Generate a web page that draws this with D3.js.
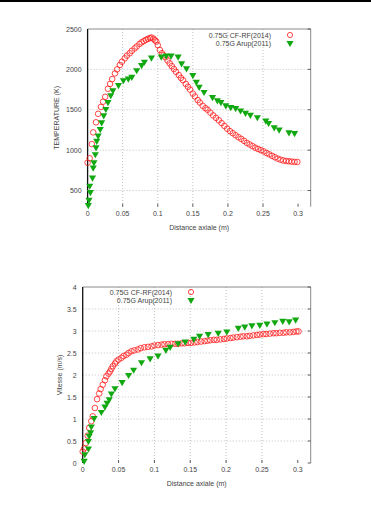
<!DOCTYPE html>
<html>
<head>
<meta charset="utf-8">
<script src="https://cdn.jsdelivr.net/npm/d3@7"></script>
<style>
  body { margin: 0; background: #fff; }
  text { font-family: "Liberation Sans", "DejaVu Sans", sans-serif; fill: #444; }
</style>
</head>
<body>
<script>
// Temperature panel, CF-RF (2014): [distance, T]
var tempCfrf = [
  [0, 845], [0.003, 900], [0.006, 1075], [0.008, 1220], [0.012, 1345], [0.015, 1450],
  [0.019, 1535], [0.022, 1600], [0.025, 1660], [0.029, 1760], [0.032, 1820], [0.035, 1880],
  [0.039, 1950], [0.042, 2000], [0.046, 2055], [0.049, 2095], [0.053, 2137], [0.056, 2170],
  [0.060, 2200], [0.063, 2230], [0.067, 2260], [0.070, 2283], [0.074, 2315], [0.077, 2335],
  [0.080, 2350], [0.083, 2365], [0.086, 2378], [0.089, 2387], [0.091, 2395], [0.094, 2380],
  [0.096, 2360], [0.098, 2345], [0.100, 2300], [0.103, 2240], [0.106, 2200], [0.108, 2175],
  [0.111, 2150], [0.114, 2110], [0.117, 2075], [0.120, 2040], [0.123, 2005], [0.126, 1970],
  [0.130, 1930], [0.133, 1895], [0.136, 1866], [0.140, 1820], [0.143, 1785], [0.146, 1750],
  [0.150, 1700], [0.153, 1665], [0.157, 1620], [0.160, 1590], [0.164, 1550], [0.168, 1520],
  [0.171, 1500], [0.175, 1465], [0.179, 1430], [0.183, 1400], [0.187, 1370], [0.191, 1335],
  [0.195, 1300], [0.199, 1265], [0.203, 1235], [0.207, 1210], [0.211, 1185], [0.215, 1160],
  [0.219, 1140], [0.223, 1115], [0.227, 1090], [0.231, 1070], [0.235, 1050], [0.239, 1030],
  [0.243, 1015], [0.247, 1000], [0.251, 985], [0.255, 965], [0.259, 948], [0.263, 930],
  [0.267, 912], [0.271, 895], [0.275, 882], [0.279, 872], [0.283, 866], [0.287, 862],
  [0.291, 858], [0.295, 855], [0.299, 854]
];

// Temperature panel, Arup (2011)
var tempArup = [
  [0.001, 320], [0.002, 385], [0.004, 480], [0.003, 560], [0.007, 660], [0.008, 785],
  [0.009, 850], [0.011, 950], [0.012, 1035], [0.013, 1115], [0.015, 1180], [0.018, 1260],
  [0.020, 1345], [0.023, 1430], [0.026, 1510], [0.029, 1595], [0.033, 1680], [0.036, 1740],
  [0.044, 1805], [0.051, 1866], [0.058, 1887], [0.063, 1908], [0.070, 1990], [0.077, 2054],
  [0.081, 2095], [0.091, 2145], [0.105, 2158], [0.112, 2170], [0.119, 2170], [0.129, 2158],
  [0.134, 2075], [0.141, 2012], [0.150, 1929], [0.155, 1845], [0.159, 1783], [0.166, 1720],
  [0.178, 1658], [0.185, 1616], [0.190, 1595], [0.197, 1554], [0.204, 1533], [0.211, 1520],
  [0.218, 1491], [0.225, 1462], [0.232, 1437], [0.242, 1408], [0.254, 1366], [0.258, 1337],
  [0.266, 1283], [0.273, 1254], [0.287, 1220], [0.295, 1212]
];

// Velocity panel, CF-RF (2014): [distance, v]
var velCfrf = [
  [0, 0.26], [0.002, 0.33], [0.004, 0.45], [0.007, 0.62], [0.009, 0.80], [0.012, 0.95],
  [0.014, 1.06], [0.017, 1.25], [0.020, 1.45], [0.023, 1.58], [0.025, 1.68], [0.028, 1.78],
  [0.031, 1.88], [0.033, 1.97], [0.036, 2.03], [0.038, 2.08], [0.040, 2.14], [0.042, 2.20],
  [0.045, 2.26], [0.047, 2.31], [0.050, 2.35], [0.054, 2.39], [0.057, 2.43], [0.061, 2.46],
  [0.064, 2.50], [0.068, 2.54], [0.072, 2.56], [0.077, 2.58], [0.081, 2.61], [0.086, 2.63],
  [0.091, 2.64], [0.096, 2.65], [0.100, 2.67], [0.105, 2.68], [0.110, 2.69], [0.114, 2.70],
  [0.119, 2.70], [0.124, 2.71], [0.129, 2.71], [0.133, 2.71], [0.138, 2.72], [0.142, 2.72],
  [0.147, 2.73], [0.151, 2.73], [0.156, 2.74], [0.160, 2.75], [0.165, 2.76], [0.170, 2.77],
  [0.174, 2.78], [0.178, 2.79], [0.183, 2.80], [0.187, 2.80], [0.192, 2.81], [0.197, 2.82],
  [0.201, 2.83], [0.206, 2.84], [0.210, 2.85], [0.215, 2.86], [0.220, 2.87], [0.224, 2.88],
  [0.229, 2.88], [0.233, 2.89], [0.238, 2.90], [0.243, 2.91], [0.247, 2.92], [0.252, 2.93],
  [0.256, 2.93], [0.261, 2.94], [0.266, 2.95], [0.270, 2.95], [0.275, 2.96], [0.280, 2.96],
  [0.284, 2.97], [0.289, 2.97], [0.294, 2.98], [0.298, 2.99], [0.301, 2.99]
];

// Velocity panel, Arup (2011)
var velArup = [
  [0.002, 0.05], [0.003, 0.20], [0.008, 0.33], [0.008, 0.50], [0.009, 0.62], [0.011, 0.70],
  [0.012, 0.83], [0.016, 1.02], [0.026, 1.16], [0.031, 1.28], [0.034, 1.37], [0.037, 1.45],
  [0.040, 1.58], [0.045, 1.70], [0.055, 1.84], [0.064, 2.00], [0.071, 2.12], [0.082, 2.29],
  [0.094, 2.38], [0.105, 2.44], [0.116, 2.57], [0.122, 2.64], [0.133, 2.72], [0.143, 2.76],
  [0.155, 2.82], [0.163, 2.89], [0.175, 2.93], [0.189, 2.96], [0.201, 2.99], [0.217, 3.07],
  [0.226, 3.10], [0.236, 3.13], [0.247, 3.14], [0.257, 3.17], [0.268, 3.20], [0.279, 3.23],
  [0.288, 3.22], [0.297, 3.26]
];

var xTicks = [0, 0.05, 0.1, 0.15, 0.2, 0.25, 0.3];
var tempTicks = [500, 1000, 1500, 2000, 2500];
var velTicks = [0, 0.5, 1, 1.5, 2, 2.5, 3, 3.5, 4];
var seriesNames = ["0.75G  CF-RF(2014)", "0.75G Arup(2011)"];

var RED = "#ff1a1a", GREEN = "#12a812";

var svg = d3.select("body").append("svg")
  .attr("width", 371)
  .attr("height", 512);

// page rule at the very top
svg.append("rect")
  .attr("x", 0).attr("y", 0)
  .attr("width", 371).attr("height", 2)
  .attr("fill", "#000");

var triangle = d3.symbol().type(d3.symbolTriangle).size(22);

function fmt(d) {
  return d === 0 ? "0" : String(d);
}

function drawPanel(o) {
  var x = d3.scaleLinear().domain([0, 0.318]).range([o.left, o.right]),
    y = d3.scaleLinear().domain(o.yDomain).range([o.bottom, o.top]),
    g = svg.append("g");

  // grid
  g.selectAll(".gx").data(xTicks.filter(function(d) { return d > 0 && d < 0.3; }))
    .enter().append("line")
    .attr("x1", function(d) { return x(d); })
    .attr("x2", function(d) { return x(d); })
    .attr("y1", o.top).attr("y2", o.bottom)
    .attr("stroke", "#b0b0b0").attr("stroke-width", 0.8)
    .attr("stroke-dasharray", "1,2");
  g.selectAll(".gy").data(o.yTicks.filter(function(d) { return y(d) > o.top + 1 && y(d) < o.bottom - 1; }))
    .enter().append("line")
    .attr("x1", o.left).attr("x2", o.right)
    .attr("y1", function(d) { return y(d); })
    .attr("y2", function(d) { return y(d); })
    .attr("stroke", "#b0b0b0").attr("stroke-width", 0.8)
    .attr("stroke-dasharray", "1,2");

  // frame: top and right in grey, left axis in black
  g.append("path")
    .attr("d", "M" + o.left + "," + o.top + "H" + o.right + "V" + o.bottom)
    .attr("fill", "none").attr("stroke", "#8a8a8a").attr("stroke-width", 1);
  g.append("line")
    .attr("x1", o.left).attr("x2", o.left)
    .attr("y1", o.top).attr("y2", o.bottom)
    .attr("stroke", "#111").attr("stroke-width", 1.3);

  // small mirror ticks
  g.selectAll(".ty").data(o.yTicks).enter().append("line")
    .attr("x1", o.right - 3).attr("x2", o.right)
    .attr("y1", function(d) { return y(d); })
    .attr("y2", function(d) { return y(d); })
    .attr("stroke", "#333").attr("stroke-width", 0.8);
  g.selectAll(".tx").data(xTicks).enter().append("line")
    .attr("x1", function(d) { return x(d); })
    .attr("x2", function(d) { return x(d); })
    .attr("y1", o.bottom - 3).attr("y2", o.bottom)
    .attr("stroke", "#333").attr("stroke-width", 0.8);

  // tick labels
  g.selectAll(".lx").data(xTicks).enter().append("text")
    .attr("x", function(d) { return x(d); })
    .attr("y", o.bottom + 9)
    .attr("text-anchor", "middle")
    .style("font-size", "7px")
    .text(fmt);
  g.selectAll(".ly").data(o.yTicks).enter().append("text")
    .attr("x", o.left - 6)
    .attr("y", function(d) { return y(d) + 2.5; })
    .attr("text-anchor", "end")
    .style("font-size", "7px")
    .text(fmt);

  // axis titles
  g.append("text")
    .attr("x", (o.left + o.right) / 2)
    .attr("y", o.bottom + 23)
    .attr("text-anchor", "middle")
    .style("font-size", "7px")
    .text("Distance axiale (m)");
  g.append("text")
    .attr("transform", "translate(" + o.yTitleX + "," + ((o.top + o.bottom) / 2) + ") rotate(-90)")
    .attr("text-anchor", "middle")
    .style("font-size", "7px")
    .text(o.yTitle);

  // data
  g.selectAll(".c").data(o.red).enter().append("circle")
    .attr("cx", function(d) { return x(d[0]); })
    .attr("cy", function(d) { return y(d[1]); })
    .attr("r", 2.8)
    .attr("fill", "none")
    .attr("stroke", RED).attr("stroke-width", 0.8);
  g.selectAll(".t").data(o.green).enter().append("path")
    .attr("d", triangle)
    .attr("transform", function(d) { return "translate(" + x(d[0]) + "," + y(d[1]) + ") rotate(180)"; })
    .attr("fill", GREEN);

  // legend
  var lg = g.append("g");
  lg.selectAll("text").data(seriesNames).enter().append("text")
    .attr("x", o.legendX)
    .attr("y", function(d, i) { return o.legendY + i * 8 + 2.5; })
    .attr("text-anchor", "end")
    .style("font-size", "7px")
    .text(function(d) { return d; });
  lg.append("circle")
    .attr("cx", o.legendX + 19).attr("cy", o.legendY)
    .attr("r", 2.6)
    .attr("fill", "none").attr("stroke", RED).attr("stroke-width", 0.8);
  lg.append("path")
    .attr("d", triangle)
    .attr("transform", "translate(" + (o.legendX + 19) + "," + (o.legendY + 8) + ") rotate(180)")
    .attr("fill", GREEN);
}

drawPanel({
  left: 87.6, right: 310.7, top: 29, bottom: 206.7,
  yDomain: [300, 2500], yTicks: tempTicks,
  yTitle: "TEMPERATURE (K)", yTitleX: 59,
  red: tempCfrf, green: tempArup,
  legendX: 271, legendY: 35
});

drawPanel({
  left: 82.7, right: 310.7, top: 287, bottom: 463,
  yDomain: [0, 4], yTicks: velTicks,
  yTitle: "Vitesse (m/s)", yTitleX: 62,
  red: velCfrf, green: velArup,
  legendX: 172, legendY: 292
});
</script>
</body>
</html>
